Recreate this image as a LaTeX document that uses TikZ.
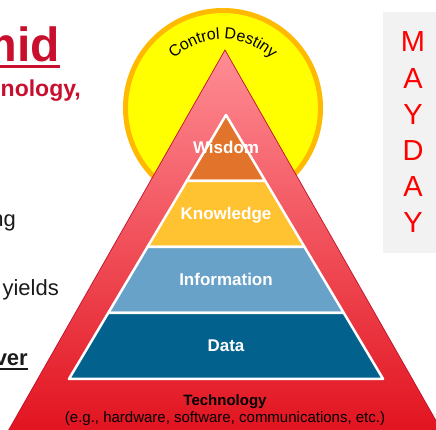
\documentclass[tikz,border=0pt]{standalone}
\usepackage{fontspec}
\setmainfont{Liberation Sans}
\usepackage{xcolor}
\definecolor{sunfill}{HTML}{FFFF00}
\definecolor{sunrim}{HTML}{FFB900}
\definecolor{pyrtop}{HTML}{FF8D95}
\definecolor{pyrbot}{HTML}{E1111D}
\definecolor{pyredge}{HTML}{C0102A}
\definecolor{wisdom}{HTML}{E1742A}
\definecolor{knowledge}{HTML}{FFC332}
\definecolor{information}{HTML}{69A2C9}
\definecolor{data}{HTML}{02628D}
\definecolor{crimson}{HTML}{C8102E}
\definecolor{ink}{HTML}{1A1A1A}
\definecolor{panel}{HTML}{F2F2F2}
\definecolor{alarm}{HTML}{FF0000}
\usepackage{tikz}
\tikzset{
  layer/.style={draw=white, line width=2.5pt, line join=round, fill=#1},
  layerlabel/.style={anchor=base, inner sep=0pt, text=white, font=\fontsize{17}{20}\selectfont\bfseries},
  fragment/.style={anchor=base east, inner sep=0pt, text=ink, font=\fontsize{22}{26}\selectfont},
  heading/.style={fragment, text=crimson, font=\fontsize{#1}{#1}\selectfont\bfseries},
  letter/.style={anchor=base, inner sep=0pt, text=alarm, font=\fontsize{29}{30}\selectfont},
  caption/.style={anchor=base, inner sep=0pt, text=black, font=\fontsize{15}{18}\selectfont},
  arcchar/.style={anchor=base, inner sep=0pt, text=black, font=\fontsize{16}{16}\selectfont},
}

\begin{document}
\begin{tikzpicture}[x=1pt, y=1pt]
  \useasboundingbox (0,0) rectangle (436,430);

  % slide text running in from the left
  \node[heading=48] (title) at (60,368) {mid};
  \draw[crimson, line width=3pt] ([yshift=-5pt]title.base west) -- ([yshift=-5pt]title.base east);
  \node[heading=23] (sub) at (81,333) {nology,};
  \node[fragment] (ln1) at (16,203) {ng};
  \node[fragment] (ln2) at (59,134) {yields};
  \node[fragment, font=\fontsize{22}{26}\selectfont\bfseries] (ln3) at (28,64) {ver};
  \draw[ink, line width=1.5pt] ([yshift=-3pt]ln3.base west) -- ([yshift=-3pt]ln3.base east);

  % sun behind the pyramid
  \node[circle, draw=sunrim, fill=sunfill, line width=5pt, minimum size=195pt, inner sep=0pt] (sun) at (223,322) {};
  % letters bent over the top of the sun (offsets in em from the start)
  \foreach \ch/\c [count=\i] in {C/0.361, o/1.000, n/1.556, t/1.973, r/2.279, o/2.723, l/3.112,
                                 D/3.862, e/4.501, s/5.029, t/5.418, i/5.668, n/6.057, y/6.585} {
    \pgfmathsetmacro\ang{134.8-\c*13.1}
    \node[arcchar, rotate=\ang-90] (cd\i) at ([shift={(\ang:69)}]sun.center) {\ch};
  }

  % outer pyramid
  \draw[pyredge, line width=0.7pt, top color=pyrtop, bottom color=pyrbot]
    (225,380) coordinate (apex) -- (447,-10) -- (3,-10) -- cycle;

  % stacked layers
  \foreach \up/\lo/\col/\txt in {315/249/wisdom/Wisdom, 249/183/knowledge/Knowledge,
                                 183/117/information/Information, 117/51/data/Data} {
    \draw[layer=\col] ({226-0.595*(315-\up)},\up) -- ({226+0.595*(315-\up)},\up)
      -- ({226+0.595*(315-\lo)},\lo) -- ({226-0.595*(315-\lo)},\lo) -- cycle;
    \node[layerlabel] (\col) at (226,{(\up+\lo)/2-6}) {\txt};
  }

  \node[caption] (tech) at (225,24) {\textbf{Technology}};
  \node[caption] (examples) at (225,7) {(e.g., hardware, software, communications, etc.)};

  % side panel
  \fill[panel] (383,177) rectangle (437,418);
  \foreach \ch [count=\i] in {M,A,Y,D,A,Y}
    \node[letter] (may\i) at (413,{378-36.2*(\i-1)}) {\ch};
\end{tikzpicture}
\end{document}
